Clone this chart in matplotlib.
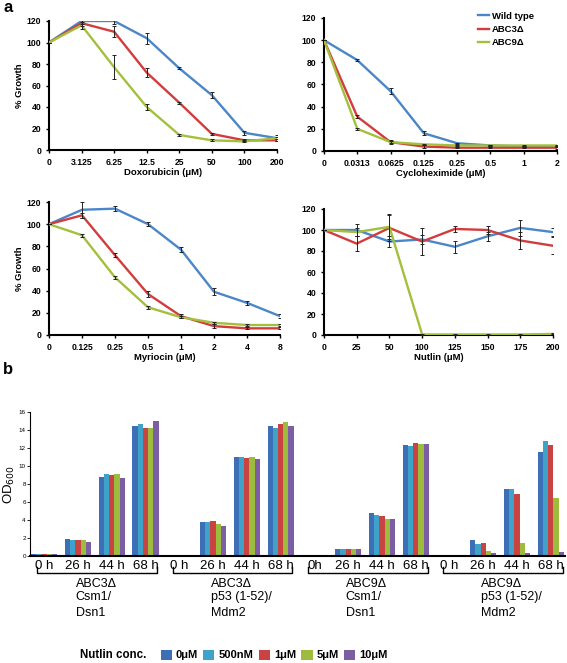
import numpy as np
import matplotlib
matplotlib.use("Agg")
import matplotlib.pyplot as plt
from matplotlib.patches import Patch
from matplotlib.transforms import blended_transform_factory

"""Recreates the growth curves (a) and OD600 bar chart (b)"""

plt.rcParams["font.family"] = ["Liberation Sans", "DejaVu Sans"]

# ---- panel a data ----
strains = ["Wild type", "ABC3\u0394", "ABC9\u0394"]
line_colors = ["#4a86c8", "#d23c3c", "#a3c03c"]

doxo_ticks = ["0", "3.125", "6.25", "12.5", "25", "50", "100", "200"]
doxo_wt = [100, 120, 120, 104, 76, 51, 16, 11]
doxo_abc3 = [100, 118, 110, 72, 44, 15, 9, 9]
doxo_abc9 = [100, 116, 77, 40, 14, 9, 8, 11]
doxo_wt_err = [0, 3, 3, 5, 1, 3, 2, 3]
doxo_abc3_err = [0, 3, 5, 4, 1, 1, 1, 1]
doxo_abc9_err = [0, 3, 11, 3, 1, 1, 1, 1]

cyclo_ticks = ["0", "0.0313", "0.0625", "0.125", "0.25", "0.5", "1", "2"]
cyclo_wt = [100, 82, 54, 16, 7, 5, 4, 4]
cyclo_abc3 = [100, 31, 8, 4, 3, 3, 3, 3]
cyclo_abc9 = [100, 20, 8, 6, 5, 5, 5, 5]
cyclo_wt_err = [0, 1, 3, 2, 0.5, 0.5, 0.5, 0.5]
cyclo_abc3_err = [0, 1.5, 1.5, 1, 0.5, 0.5, 0.5, 1]
cyclo_abc9_err = [0, 1, 1, 0.5, 0.5, 0.5, 0.5, 0.5]

myr_ticks = ["0", "0.125", "0.25", "0.5", "1", "2", "4", "8"]
myr_wt = [100, 113, 114, 100, 77, 39, 29, 17]
myr_abc3 = [100, 108, 72, 37, 17, 8, 6, 6]
myr_abc9 = [100, 90, 52, 25, 16, 11, 9, 9]
myr_wt_err = [0, 7, 2, 2, 2, 3, 1.5, 1.5]
myr_abc3_err = [0, 2, 2, 3, 2, 2, 1, 1]
myr_abc9_err = [0, 1.5, 1.5, 1.5, 1, 1, 1, 1]

nut_ticks = ["0", "25", "50", "100", "125", "150", "175", "200"]
nut_wt = [100, 100, 89, 91, 84, 94, 102, 98]
nut_abc3 = [100, 87, 102, 89, 101, 100, 90, 85]
nut_abc9 = [100, 98, 103, 0.5, 0.5, 0.5, 0.5, 1]
nut_wt_err = [0, 6, 5, 4, 6, 4, 8, 4]
nut_abc3_err = [0, 7, 12, 13, 3, 4, 8, 8]
nut_abc9_err = [0, 4, 12, 0.5, 0.5, 0.5, 0.5, 0.5]

# ---- panel b data ----
conc_labels = ["0\u03bcM", "500nM", "1\u03bcM", "5\u03bcM", "10\u03bcM"]
bar_colors = ["#3d6fb6", "#3fa3c9", "#c94343", "#9dbb3c", "#7c5ea2"]
time_labels = ["0 h", "26 h", "44 h", "68 h",
               "0 h", "26 h", "44 h", "68 h",
               "0h", "26 h", "44 h", "68 h",
               "0 h", "26 h", "44 h", "68 h"]
group_titles = ["ABC3\u0394", "ABC3\u0394", "ABC9\u0394", "ABC9\u0394"]
group_subs = ["Csm1/\nDsn1", "p53 (1-52)/\nMdm2", "Csm1/\nDsn1", "p53 (1-52)/\nMdm2"]
# rows = time points (16), columns = nutlin concentration (5)
od600 = [
    [0.2, 0.2, 0.2, 0.2, 0.2],
    [1.9, 1.75, 1.75, 1.8, 1.55],
    [8.75, 9.1, 9.05, 9.1, 8.7],
    [14.4, 14.65, 14.2, 14.2, 14.95],
    [0.1, 0.1, 0.1, 0.1, 0.1],
    [3.8, 3.8, 3.85, 3.55, 3.35],
    [10.95, 10.95, 10.85, 10.95, 10.75],
    [14.45, 14.25, 14.7, 14.85, 14.45],
    [0.15, 0.15, 0.15, 0.15, 0.15],
    [0.75, 0.75, 0.75, 0.75, 0.75],
    [4.75, 4.6, 4.4, 4.1, 4.1],
    [12.3, 12.2, 12.6, 12.5, 12.5],
    [0.12, 0.12, 0.12, 0.12, 0.12],
    [1.75, 1.3, 1.4, 0.6, 0.3],
    [7.45, 7.5, 6.85, 1.4, 0.3],
    [11.55, 12.75, 12.35, 6.5, 0.4],
]

W, H = 567, 663


def px_rect(left, top, right, bottom):
    """pixel box -> figure fraction rect"""
    return [left / W, 1 - bottom / H, (right - left) / W, (bottom - top) / H]


def style_axes(ax, lw=1.5):
    ax.spines["top"].set_visible(False)
    ax.spines["right"].set_visible(False)
    ax.spines["left"].set_linewidth(lw)
    ax.spines["bottom"].set_linewidth(lw)
    ax.tick_params(direction="out", length=2, width=1)


def growth_panel(ax, ticks, series, errors, xlabel, ylabel=None):
    """line plot with error bars over categorical concentrations"""
    x = np.arange(len(ticks))
    for vals, errs, col, name in zip(series, errors, line_colors, strains):
        ax.plot(x, vals, color=col, lw=1.7, label=name, zorder=3)
        ax.errorbar(x, vals, yerr=errs, fmt="none", ecolor="#222222",
                    elinewidth=0.7, capsize=1.6, capthick=0.7, zorder=4)
    style_axes(ax)
    ax.set_xlim(0, len(ticks) - 1)
    ax.set_ylim(0, 120)
    ax.set_yticks(range(0, 121, 20))
    ax.set_xticks(x)
    ax.set_xticklabels(ticks)
    ax.tick_params(labelsize=6.2)
    for lab in ax.get_xticklabels() + ax.get_yticklabels():
        lab.set_fontweight("bold")
    ax.set_xlabel(xlabel, fontsize=6.8, fontweight="bold", labelpad=1)
    if ylabel:
        ax.set_ylabel(ylabel, fontsize=6.8, fontweight="bold", labelpad=2)


fig = plt.figure(figsize=(W / 100, H / 100), dpi=100)

ax1 = fig.add_axes(px_rect(49, 21, 277, 150))
growth_panel(ax1, doxo_ticks, [doxo_wt, doxo_abc3, doxo_abc9],
             [doxo_wt_err, doxo_abc3_err, doxo_abc9_err],
             "Doxorubicin (\u03bcM)", "% Growth")

ax2 = fig.add_axes(px_rect(324, 18, 557, 151))
growth_panel(ax2, cyclo_ticks, [cyclo_wt, cyclo_abc3, cyclo_abc9],
             [cyclo_wt_err, cyclo_abc3_err, cyclo_abc9_err],
             "Cycloheximide (\u03bcM)")
leg = ax2.legend(loc="upper left", bbox_to_anchor=(473 / W, 1 - 7 / H),
                 bbox_transform=fig.transFigure, frameon=False,
                 handlelength=1.2, handletextpad=0.3, labelspacing=0.45,
                 borderpad=0, prop={"size": 6.8, "weight": "bold"})

ax3 = fig.add_axes(px_rect(49, 202, 280, 335))
growth_panel(ax3, myr_ticks, [myr_wt, myr_abc3, myr_abc9],
             [myr_wt_err, myr_abc3_err, myr_abc9_err],
             "Myriocin (\u03bcM)", "% Growth")

ax4 = fig.add_axes(px_rect(324, 209, 553, 335))
growth_panel(ax4, nut_ticks, [nut_wt, nut_abc3, nut_abc9],
             [nut_wt_err, nut_abc3_err, nut_abc9_err],
             "Nutlin (\u03bcM)")

# ---- panel b ----
axb = fig.add_axes(px_rect(30, 412, 565, 556))
od = np.array(od600)
xg = np.arange(len(time_labels))
bw = 0.155
for j, (col, lab) in enumerate(zip(bar_colors, conc_labels)):
    axb.bar(xg + (j - 2) * bw, od[:, j], width=bw, color=col, label=lab,
            edgecolor="none")
axb.spines["top"].set_visible(False)
axb.spines["right"].set_visible(False)
axb.spines["left"].set_linewidth(0.8)
axb.spines["bottom"].set_linewidth(1.5)
axb.set_xlim(-0.42, 15.42)
axb.set_ylim(0, 16)
axb.set_yticks(range(0, 17, 2))
axb.tick_params(axis="y", labelsize=4.5, length=2, width=0.6, pad=1)
axb.set_xticks(xg)
axb.set_xticklabels(time_labels, fontsize=9.5)
axb.tick_params(axis="x", length=0, pad=3)
axb.set_ylabel("OD$_{600}$", fontsize=9.5, labelpad=1)

tr = blended_transform_factory(axb.transData, fig.transFigure)
for g in range(4):
    x0 = g * 4 - 0.2
    x1 = g * 4 + 3.35
    yb = 1 - 573 / H
    yt = 1 - 567 / H
    axb.plot([x0, x0, x1, x1], [yt, yb, yb, yt], color="black", lw=1.0,
             transform=tr, clip_on=False)
    xc = g * 4 + 1.55
    fig.text(0, 0, group_titles[g], transform=tr, fontsize=9,
             ha="center", va="center")
    fig.texts[-1].set_position((xc, 1 - 584 / H))
    fig.text(0, 0, group_subs[g], transform=tr, fontsize=9,
             ha="left", va="top", linespacing=1.4)
    fig.texts[-1].set_position((g * 4 + 0.93, 1 - 591 / H))

# legend for concentrations
fig.text(80 / W, 1 - 655 / H, "Nutlin conc.", fontsize=8.3, fontweight="bold",
         va="center")
handles = [Patch(facecolor=c, edgecolor="none") for c in bar_colors]
fig.legend(handles, conc_labels, loc="center left",
           bbox_to_anchor=(155 / W, 1 - 655 / H), ncol=5, frameon=False,
           handlelength=1.0, handleheight=1.0, handletextpad=0.35,
           columnspacing=0.5, borderpad=0, prop={"size": 8, "weight": "bold"})

fig.text(3 / W, 1 - 8 / H, "a", fontsize=12, fontweight="bold", va="center")
fig.text(3 / W, 1 - 370 / H, "b", fontsize=12, fontweight="bold", va="center")

fig.savefig("out.png", dpi=100)
